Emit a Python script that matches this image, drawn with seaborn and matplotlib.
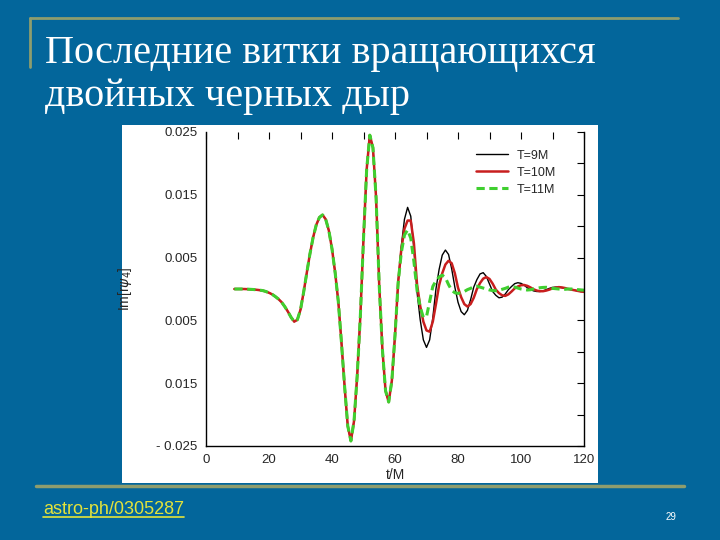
import numpy as np
import pandas as pd
import matplotlib
matplotlib.use("Agg")
import matplotlib.pyplot as plt
from matplotlib.patches import Rectangle
from matplotlib.lines import Line2D
from matplotlib.ticker import MultipleLocator, FixedLocator, FixedFormatter
import seaborn as sns

# ---- data (values in units of 1e-3) ----
t_common = list(range(9, 61))
im_common = [0.0, 0.0, 0.0, 0.0, -0.02, -0.05, -0.08, -0.12, -0.18, -0.25,
             -0.4, -0.6, -0.85, -1.2, -1.6, -2.1, -2.8, -3.6, -4.5, -5.2,
             -4.9, -3.3, -0.5, 2.6, 5.6, 8.2, 10.2, 11.4, 11.8, 11.1,
             9.3, 6.4, 2.6, -2.0, -8.5, -15.5, -21.8, -24.2, -21.0, -13.8,
             -4.3, 8.0, 19.0, 24.5, 22.5, 14.5, 0.5, -9.6, -16.2, -18.0,
             -14.6, -7.4]

t_tail = list(range(61, 121))
im_tail_9M = [1.2, 6.8, 11.1, 13.0, 11.6, 6.5, -0.5, -4.9, -8.1, -9.3,
              -8.1, -4.6, 0.0, 3.1, 5.4, 6.2, 5.5, 3.2, 0.3, -2.1,
              -3.6, -4.1, -3.4, -1.7, 0.3, 1.5, 2.4, 2.6, 2.0, 0.8,
              -0.4, -1.0, -1.4, -1.3, -0.8, -0.1, 0.4, 0.85, 1.0, 0.9,
              0.6, 0.2, -0.1, -0.3, -0.4, -0.4, -0.3, -0.1, 0.1, 0.25,
              0.3, 0.3, 0.2, 0.1, 0.0, -0.1, -0.2, -0.3, -0.4, -0.45]
im_tail_10M = [1.0, 6.3, 9.6, 10.9, 10.9, 7.3, 0.7, -2.7, -5.2, -6.6,
               -6.8, -5.2, -2.4, 0.6, 2.5, 3.9, 4.5, 4.1, 2.5, 0.2,
               -1.3, -2.4, -2.8, -2.4, -1.4, 0.0, 0.95, 1.65, 1.9, 1.6,
               0.85, -0.1, -0.65, -1.0, -1.1, -0.85, -0.4, 0.1, 0.4, 0.6,
               0.64, 0.5, 0.25, -0.05, -0.25, -0.35, -0.35, -0.25, -0.1, 0.1,
               0.2, 0.3, 0.25, 0.15, 0.0, -0.1, -0.2, -0.3, -0.4, -0.45]
im_tail_11M = [1.0, 5.8, 8.6, 9.4, 8.1, 4.4, -0.2, -2.9, -4.5, -4.4,
               -2.0, 0.4, 1.3, 1.9, 2.2, 1.8, 0.7, -0.2, -0.6, -0.7,
               -0.6, -0.4, -0.1, 0.1, 0.4, 0.45, 0.3, 0.15, 0.0, -0.15,
               -0.25, -0.27, -0.2, -0.05, 0.1, 0.3, 0.37, 0.3, 0.15, 0.0,
               -0.1, -0.16, -0.12, 0.0, 0.1, 0.2, 0.25, 0.27, 0.2, 0.1,
               0.05, 0.0, -0.05, -0.05, 0.0, 0.0, -0.05, -0.1, -0.15, -0.2]

labels = ["T=9M", "T=10M", "T=11M"]
colors = ["black", "#c81e1e", "#3fcf2f"]
ytick_pos = [0.025, 0.015, 0.005, -0.005, -0.015, -0.025]
ytick_labels = ["0.025", "0.015", "0.005", "0.005", "0.015", "- 0.025"]

t_all = t_common + t_tail
rows = []
for lab, tail in zip(labels, [im_tail_9M, im_tail_10M, im_tail_11M]):
    vals = np.array(im_common + tail) * 1e-3
    rows.append(pd.DataFrame({"t": t_all, "im": vals, "run": lab}))
df = pd.concat(rows, ignore_index=True)

sns.set_style("white")
plt.rcParams["font.family"] = ["Liberation Sans", "DejaVu Sans"]

blue = "#03669b"
olive = "#8e9d6e"
fig = plt.figure(figsize=(7.2, 5.4), dpi=100, facecolor=blue)

# slide decorations
fig.add_artist(Line2D([30 / 720, 678 / 720], [1 - 18 / 540, 1 - 18 / 540], color=olive, lw=2))
fig.add_artist(Line2D([30 / 720, 30 / 720], [1 - 18 / 540, 1 - 67 / 540], color=olive, lw=2))
fig.add_artist(Line2D([36 / 720, 684 / 720], [1 - 486 / 540, 1 - 486 / 540], color=olive, lw=2.5))
fig.add_artist(Rectangle((122 / 720, 1 - 483 / 540), 476 / 720, 358 / 540,
                         facecolor="white", edgecolor="none", zorder=-1))

fig.text(45 / 720, 1 - 63 / 540, "Последние витки вращающихся", color="white",
         fontsize=29, family=["Liberation Serif", "DejaVu Serif"], va="baseline")
fig.text(45 / 720, 1 - 106 / 540, "двойных черных дыр", color="white",
         fontsize=29, family=["Liberation Serif", "DejaVu Serif"], va="baseline")
fig.text(43 / 720, 1 - 514 / 540, "astro-ph/0305287", color="#e3e33a", fontsize=13)
fig.add_artist(Line2D([43 / 720, 184 / 720], [1 - 517 / 540, 1 - 517 / 540], color="#e3e33a", lw=1.2))
fig.text(671 / 720, 1 - 517 / 540, "29", color="white", fontsize=7, ha="center", va="center")

ax = fig.add_axes([206 / 720, 1 - 446 / 540, 378 / 720, 314 / 540])
ax.set_facecolor("white")
sns.lineplot(data=df, x="t", y="im", hue="run", hue_order=labels,
             palette=colors, ax=ax, legend=False, estimator=None, sort=False)
lines = ax.get_lines()
lines[0].set_linewidth(1.0)
lines[1].set_linewidth(1.8)
lines[2].set_linewidth(2.2)
lines[2].set_dashes([2.7, 1.5])

ax.set_xlim(0, 120)
ax.set_ylim(-0.025, 0.025)
ax.xaxis.set_major_locator(MultipleLocator(20))
ax.xaxis.set_minor_locator(MultipleLocator(10))
ax.yaxis.set_major_locator(FixedLocator(ytick_pos))
ax.yaxis.set_major_formatter(FixedFormatter(ytick_labels))
ax.yaxis.set_minor_locator(FixedLocator([0.02, 0.01, 0.0, -0.01, -0.02]))
ax.tick_params(which="both", direction="in", top=True, right=True,
               labelsize=9.5, color="black", width=0.8, pad=6)
ax.tick_params(which="major", length=5)
ax.tick_params(which="minor", length=5)
for side in ["left", "bottom", "right"]:
    ax.spines[side].set_color("black")
    ax.spines[side].set_linewidth(1)
ax.spines["top"].set_visible(False)

ax.set_xlabel("t/M", fontsize=10, labelpad=1)
ax.set_ylabel(r"Im[r$\psi_4$]", fontsize=10)
ax.yaxis.set_label_coords(-0.19, 0.5)

handles = [Line2D([], [], color=colors[0], lw=1.0),
           Line2D([], [], color=colors[1], lw=1.8),
           Line2D([], [], color=colors[2], lw=2.2, dashes=[2.7, 1.5])]
ax.legend(handles, labels, loc="upper right", bbox_to_anchor=(0.94, 0.96),
          frameon=False, fontsize=9, handlelength=2.6, handletextpad=0.7,
          labelspacing=0.4, borderaxespad=0)

fig.savefig("out.png", dpi=100, facecolor=blue)
